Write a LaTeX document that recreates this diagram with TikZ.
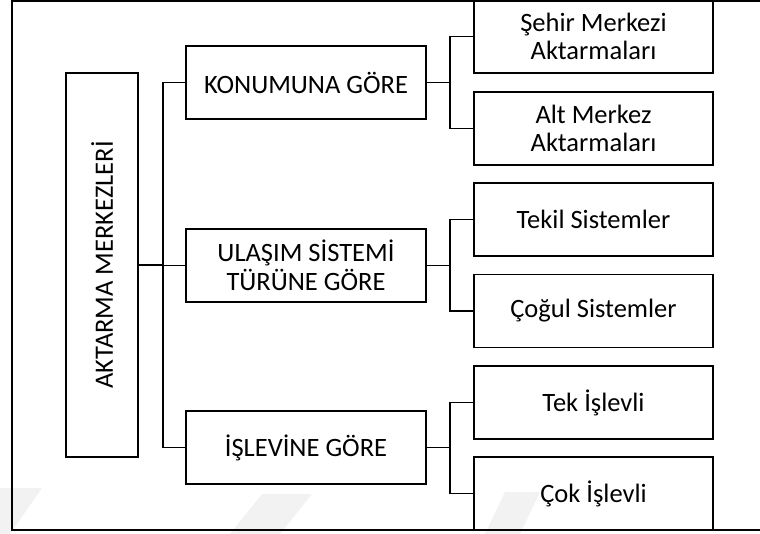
\documentclass[tikz,border=0pt]{standalone}
\usepackage{fontspec}
\usepackage{graphicx}
\setmainfont{Carlito}
\begin{document}
\begin{tikzpicture}[x=1pt,y=-1pt,
  box/.style={draw, line width=1.6pt, rectangle, inner sep=0pt, align=center,
    font=\fontsize{26.5}{28.5}\selectfont},
  catbox/.style={box, minimum width=240pt, minimum height=73pt},
  leafbox/.style={box, minimum width=239pt, minimum height=73pt},
  link/.style={line width=1.5pt},
  frame/.style={line width=2pt}]
\useasboundingbox (0,0) rectangle (760,534);

% faint background marks near the lower edge
\fill[black!5] (0,488) -- (42,488) -- (10,534) -- (0,534) -- cycle;
\fill[black!5] (262,494) -- (312,494) -- (280,534) -- (230,534) -- cycle;
\fill[black!5] (505,492) -- (540,492) -- (520,534) -- (485,534) -- cycle;

% outer frame
\draw[frame] (760,1) -- (12,1) -- (12,529.5) -- (760,529.5);

% root
\node[box, minimum width=72pt, minimum height=384pt] (root) at (102,265)
  {\rotatebox{90}{AKTARMA MERKEZLERİ}};

% categories
\node[catbox] (kon) at (306,82.5) {KONUMUNA GÖRE};
\node[catbox] (ula) at (306,265.5) {ULAŞIM SİSTEMİ\\TÜRÜNE GÖRE};
\node[catbox] (isl) at (306,447.5) {İŞLEVİNE GÖRE};

% leaves
\node[leafbox] (seh) at (593.5,36.5) {Şehir Merkezi\\Aktarmaları};
\node[leafbox] (alt) at (593.5,128.5) {Alt Merkez\\Aktarmaları};
\node[leafbox] (tek) at (593.5,219.5) {Tekil Sistemler};
\node[leafbox] (cog) at (593.5,311) {Çoğul Sistemler};
\node[leafbox] (tis) at (593.5,402.5) {Tek İşlevli};
\node[leafbox] (cis) at (593.5,493.5) {Çok İşlevli};

% root to categories
\coordinate (rb) at (163,265);
\draw[link] (root.east) -- (rb);
\draw[link] (kon.west) -| (rb) |- (isl.west);
\draw[link] (ula.west) -- (ula.west -| rb);

% categories to leaves
\coordinate (kb) at (450,82.5);
\coordinate (ub) at (450,265.5);
\coordinate (ib) at (450,447.5);
\draw[link] (kon.east) -- (kb);
\draw[link] (seh.west) -| (kb) |- (alt.west);
\draw[link] (ula.east) -- (ub);
\draw[link] (tek.west) -| (ub) |- (cog.west);
\draw[link] (isl.east) -- (ib);
\draw[link] (tis.west) -| (ib) |- (cis.west);
\end{tikzpicture}
\end{document}
